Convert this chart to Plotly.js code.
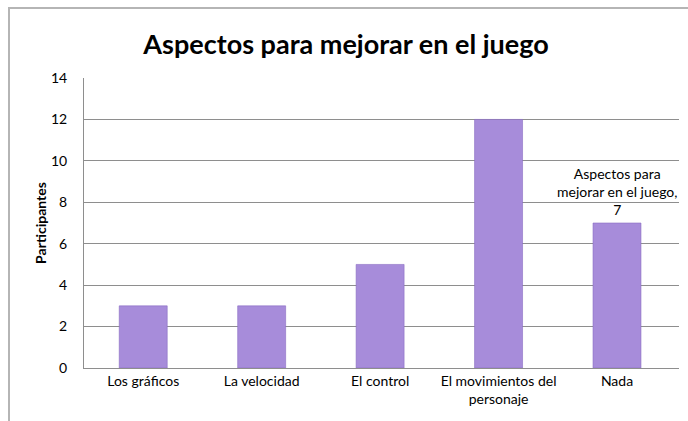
<!DOCTYPE html>
<html>
<head>
<meta charset="utf-8">
<script src="https://cdn.plot.ly/plotly-3.0.1.min.js"></script>
<style>
  html, body { margin: 0; padding: 0; background: #ffffff; }
  #wrap { position: relative; width: 688px; height: 421px; overflow: hidden; }
  #frame { position: absolute; left: 8px; top: 7px; width: 700px; height: 430px;
           border-left: 2px solid #b5b5b5; border-top: 2px solid #b5b5b5; box-sizing: border-box; }
  #chart { position: absolute; left: 0; top: 0; width: 688px; height: 421px; }
</style>
</head>
<body>
<div id="wrap">
  <div id="frame"></div>
  <div id="chart"></div>
</div>
<script>
const chartTitle = "Aspectos para mejorar en el juego";
const categories = ["Los gráficos", "La velocidad", "El control", "El movimientos del personaje", "Nada"];
const tickLabels = ["Los gráficos", "La velocidad", "El control", "El movimientos del<br>personaje", "Nada"];
const seriesName = "Aspectos para mejorar en el juego";
const participantes = [3, 3, 5, 12, 7];
const labelledIndex = 4;
const labelText = "Aspectos para<br>mejorar en el juego,<br>";

const FONT = "Lato, 'Open Sans', sans-serif";

const trace = {
  type: "bar",
  x: categories,
  y: participantes,
  name: seriesName,
  marker: { color: "#a78cda", line: { color: "#8a6cc2", width: 0.6 } },
  hoverinfo: "x+y"
};

const layout = {
  width: 688, height: 421,
  margin: { l: 84, r: 9, t: 78, b: 53 },
  paper_bgcolor: "rgba(0,0,0,0)",
  plot_bgcolor: "#ffffff",
  showlegend: false,
  bargap: 0.595,
  font: { family: FONT, color: "#000000", size: 14 },
  title: {
    text: "<b>" + chartTitle + "</b>",
    font: { family: FONT, size: 27, color: "#000000" },
    x: 0.503, xanchor: "center", y: 0.895, yanchor: "middle"
  },
  xaxis: {
    type: "category",
    tickmode: "array",
    tickvals: categories,
    ticktext: tickLabels,
    showline: true, linecolor: "#8e8e8e", linewidth: 1,
    ticks: "", ticklen: 0,
    showgrid: false,
    mirror: false,
    tickfont: { family: FONT, size: 14, color: "#000000" },
    fixedrange: true
  },
  yaxis: {
    range: [0, 14],
    dtick: 2,
    showline: true, linecolor: "#8e8e8e", linewidth: 1,
    showgrid: true, gridcolor: "#8e8e8e", gridwidth: 1,
    zeroline: false,
    ticks: "",
    tickfont: { family: FONT, size: 14, color: "#000000" },
    ticklabelstandoff: 13,
    title: { text: "<b>Participantes</b>", font: { family: FONT, size: 14, color: "#000000" }, standoff: 1 },
    fixedrange: true
  },
  annotations: [{
    x: categories[labelledIndex],
    y: participantes[labelledIndex],
    xref: "x", yref: "y",
    text: labelText + participantes[labelledIndex],
    showarrow: false,
    yanchor: "bottom",
    yshift: 3,
    align: "center",
    font: { family: FONT, size: 14, color: "#000000" }
  }]
};

Plotly.newPlot("chart", [trace], layout, { displayModeBar: false, staticPlot: true });
</script>
</body>
</html>
